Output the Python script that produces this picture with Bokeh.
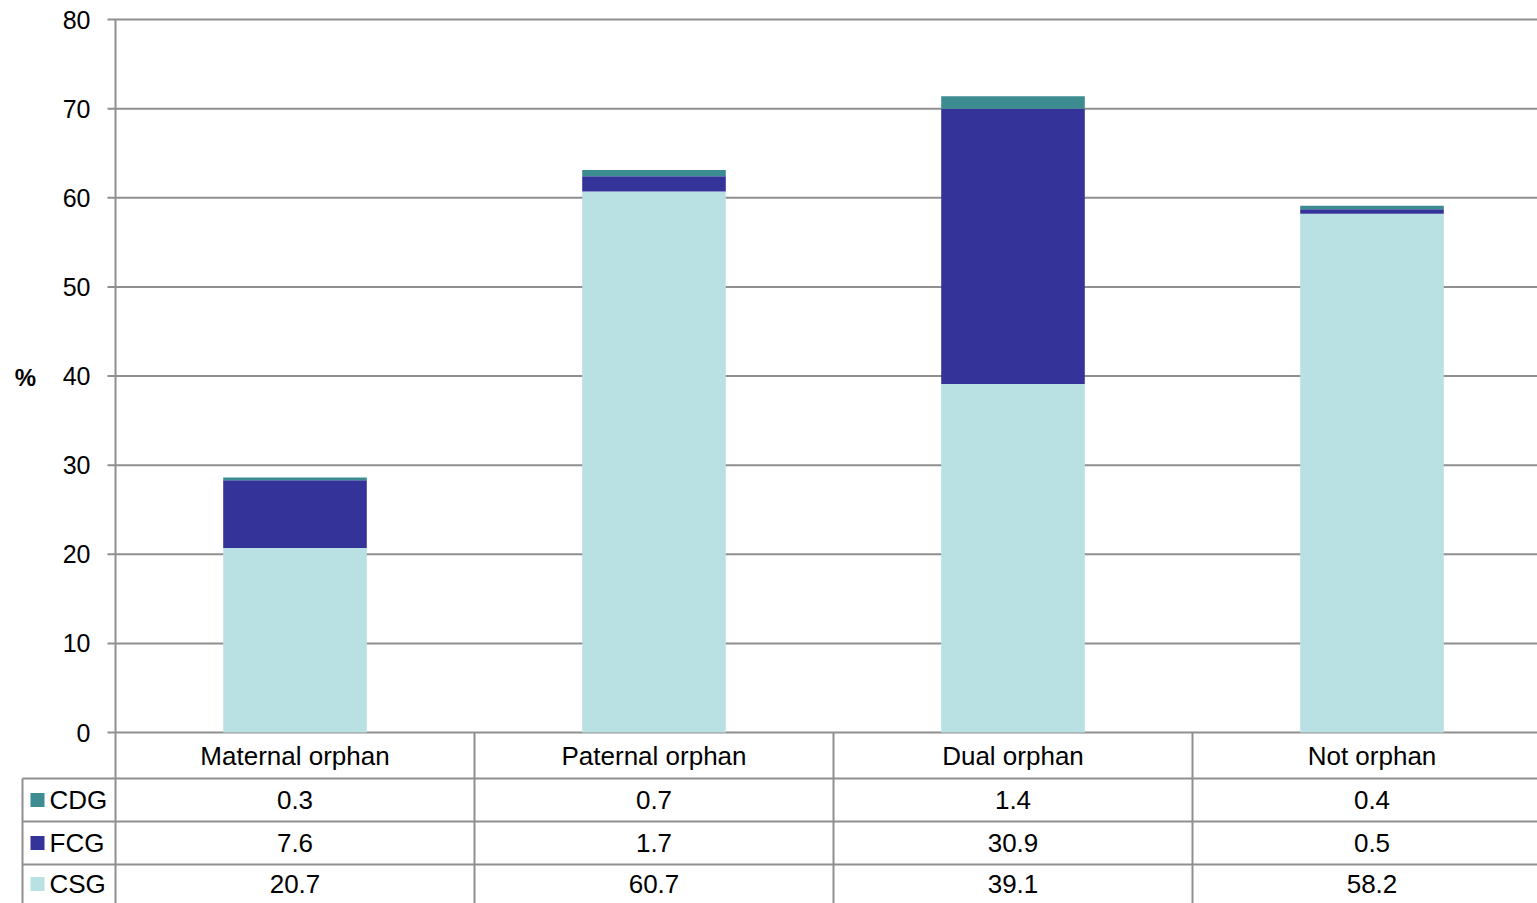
from bokeh.plotting import figure
from bokeh.models import ColumnDataSource, Range1d
from bokeh.core.properties import value
from bokeh.embed import file_html
from bokeh.resources import INLINE

# ---- data ----
categories = ["Maternal orphan", "Paternal orphan", "Dual orphan", "Not orphan"]
series = ["CSG", "FCG", "CDG"]          # stacking order, bottom to top
csg = [20.7, 60.7, 39.1, 58.2]
fcg = [7.6, 1.7, 30.9, 0.5]
cdg = [0.3, 0.7, 1.4, 0.4]
y_ticks = [0, 10, 20, 30, 40, 50, 60, 70, 80]
colors = {"CSG": "#B9E0E3", "FCG": "#343399", "CDG": "#3D8C91"}

# ---- layout (pixels) ----
W, H = 1537, 903
PLOT_LEFT = 115          # left edge of the value area
PLOT_TOP = 19            # where the 80 line sits
ZERO_Y = 732             # where the 0 line sits
CAT_W = 359              # width of one category slot
Y_MAX = 80
PX_PER_UNIT = (ZERO_Y - PLOT_TOP) / Y_MAX

def dx(px):
    return (px - PLOT_LEFT) / CAT_W

def dy(px):
    return (ZERO_Y - px) / PX_PER_UNIT

GRID = "#8f8f8f"
FONT = value("Liberation Sans")

p = figure(width=W, height=H, output_backend="svg", toolbar_location=None,
           x_range=Range1d(dx(0), dx(W)), y_range=Range1d(dy(H), dy(0)),
           min_border=0, outline_line_color=None)
p.axis.visible = False
p.grid.visible = False
p.background_fill_color = "white"

xs = [i + 0.5 for i in range(len(categories))]

# horizontal gridlines with left tick marks
p.segment(x0=[dx(PLOT_LEFT - 8)] * len(y_ticks), x1=[dx(W)] * len(y_ticks),
          y0=y_ticks, y1=y_ticks, line_color=GRID, line_width=2)

# stacked columns
src = ColumnDataSource(dict(x=xs, CSG=csg, FCG=fcg, CDG=cdg))
p.vbar_stack(series, x="x", width=0.4, source=src,
             color=[colors[s] for s in series], line_color=None)

# value axis line
p.segment(x0=[0], x1=[0], y0=[dy(PLOT_TOP)], y1=[0], line_color=GRID, line_width=2)

# value tick labels
p.text(x=[dx(90)] * len(y_ticks), y=y_ticks, text=[str(t) for t in y_ticks],
       text_font=FONT, text_font_size="25px", text_align="right",
       text_baseline="middle", text_color="black")
p.text(x=[dx(25)], y=[dy(377)], text=["%"], text_font=FONT,
       text_font_size="24px", text_font_style="bold", text_align="center",
       text_baseline="middle", text_color="black")

# ---- data table ----
row_edges = [732, 778, 821, 864, 903]
row_mid = [dy((row_edges[i] + row_edges[i + 1]) / 2) for i in range(4)]
# horizontal table lines
p.segment(x0=[dx(22)] * 3, x1=[dx(W)] * 3,
          y0=[dy(r) for r in row_edges[1:4]], y1=[dy(r) for r in row_edges[1:4]],
          line_color=GRID, line_width=2)
# vertical table lines
vx = [dx(PLOT_LEFT)] + [float(i) for i in range(1, len(categories))]
p.segment(x0=vx, x1=vx, y0=[0] * len(vx), y1=[dy(H)] * len(vx),
          line_color=GRID, line_width=2)
p.segment(x0=[dx(22)], x1=[dx(22)], y0=[dy(778)], y1=[dy(H)],
          line_color=GRID, line_width=2)

# category header
p.text(x=xs, y=[row_mid[0]] * len(xs), text=categories, text_font=FONT,
       text_font_size="26px", text_align="center", text_baseline="middle",
       text_color="black")

table_rows = [("CDG", cdg), ("FCG", fcg), ("CSG", csg)]
for i, (name, vals) in enumerate(table_rows):
    ym = row_mid[i + 1]
    p.rect(x=[dx(37)], y=[ym], width=14, height=14, width_units="screen",
           height_units="screen", fill_color=colors[name], line_color=None)
    p.text(x=[dx(49)], y=[ym], text=[name], text_font=FONT, text_font_size="26px",
           text_align="left", text_baseline="middle", text_color="black")
    p.text(x=xs, y=[ym] * len(xs), text=[f"{v:.1f}" for v in vals], text_font=FONT,
           text_font_size="26px", text_align="center", text_baseline="middle",
           text_color="black")

open("out.html", "w").write(file_html(p, INLINE))
